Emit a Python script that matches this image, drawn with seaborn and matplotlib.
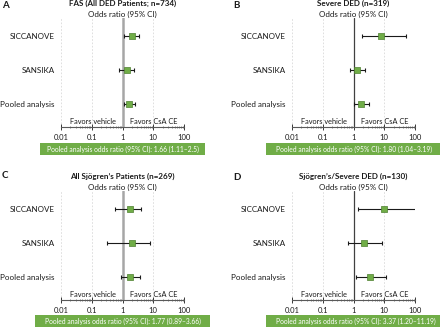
import numpy as np
import pandas as pd
import seaborn as sns
import matplotlib
matplotlib.use("Agg")
import matplotlib.pyplot as plt
from matplotlib.patches import Rectangle
from matplotlib.ticker import LogLocator, NullFormatter, FixedLocator, FixedFormatter
import matplotlib.transforms as mtransforms

sns.set_theme(style="white")
plt.rcParams['font.family'] = ['Lato', 'DejaVu Sans']

studies = ["SICCANOVE", "SANSIKA", "Pooled analysis"]
panel_letters = ["A", "B", "C", "D"]
panel_titles = ["FAS (All DED Patients; n=734)", "Severe DED (n=319)",
                "All Sjögren’s Patients (n=269)", "Sjögren’s/Severe DED (n=130)"]
or_values = [[2.05, 1.35, 1.66], [8.0, 1.28, 1.80], [1.69, 2.1, 1.77], [10.0, 2.18, 3.37]]
ci_low = [[1.13, 0.76, 1.11], [1.96, 0.76, 1.04], [0.56, 0.32, 0.89], [1.39, 0.65, 1.20]]
ci_high = [[3.4, 2.45, 2.5], [51.0, 2.34, 3.19], [4.06, 7.6, 3.66], [200.0, 8.5, 11.19]]
pooled_text = ["Pooled analysis odds ratio (95% CI): 1.66 (1.11–2.5)",
               "Pooled analysis odds ratio (95% CI): 1.80 (1.04–3.19)",
               "Pooled analysis odds ratio (95% CI): 1.77 (0.89–3.66)",
               "Pooled analysis odds ratio (95% CI): 3.37 (1.20–11.19)"]
x_ticks = [0.01, 0.1, 1, 10, 100]
x_tick_labels = ["0.01", "0.1", "1", "10", "100"]

W, H = 440, 327
fig = plt.figure(figsize=(W / 100, H / 100), dpi=100)

# axes rectangles in pixels: left, top, right, bottom
rects = [(61, 18, 184, 127), (292, 18, 415, 127), (61, 191, 184, 300), (292, 191, 415, 300)]
boxes = [(40, 143, 205, 155), (266, 143, 442, 155), (35, 315, 210, 327), (266, 315, 445, 327)]
letters_pos = [(2, 5), (233, 5), (2, 176), (233, 177)]
refline = [("#a6a6a6", 1.8), ("#404040", 0.9), ("#a6a6a6", 1.8), ("#404040", 0.9)]
green = "#70AD47"
green_edge = "#4e7f30"
txt = "#1a1a1a"

for i in range(4):
    l, t, r, b = rects[i]
    ax = fig.add_axes([l / W, 1 - b / H, (r - l) / W, (b - t) / H])
    df = pd.DataFrame({"study": studies, "pos": [1, 2, 3], "or": or_values[i],
                       "lo": ci_low[i], "hi": ci_high[i]})
    ax.set_xscale("log")
    for xv in [0.01, 0.1, 10, 100]:
        ax.axvline(xv, color="#d9d9d9", lw=0.6, ls=(0, (2, 2)), zorder=0)
    ax.axvline(1, color=refline[i][0], lw=refline[i][1], zorder=1)
    ax.errorbar(df["or"], df["pos"], xerr=[df["or"] - df["lo"], df["hi"] - df["or"]],
                fmt="none", ecolor=txt, elinewidth=0.8, capsize=1.5, capthick=0.8, zorder=2)
    sns.scatterplot(data=df, x="or", y="pos", marker="s", s=22, color=green,
                    edgecolor=green_edge, linewidth=0.5, ax=ax, zorder=3, legend=False)
    ax.set_xlim(0.01, 100)
    ax.set_ylim(3.7, 0.45)
    ax.set_yticks([1, 2, 3])
    ax.set_yticklabels(studies, fontsize=5.8, color=txt)
    ax.xaxis.set_major_locator(FixedLocator(x_ticks))
    ax.xaxis.set_major_formatter(FixedFormatter(x_tick_labels))
    ax.xaxis.set_minor_locator(LogLocator(base=10, subs=np.arange(2, 10)))
    ax.xaxis.set_minor_formatter(NullFormatter())
    ax.tick_params(axis="x", which="major", direction="inout", length=4, width=0.6,
                   labelsize=5.5, pad=3, colors=txt, bottom=True)
    ax.tick_params(axis="x", which="minor", direction="inout", length=2, width=0.5,
                   bottom=True, colors="#595959")
    ax.tick_params(axis="y", length=0, pad=4.5)
    for s in ["top", "right", "left"]:
        ax.spines[s].set_visible(False)
    ax.spines["bottom"].set_color("#595959")
    ax.spines["bottom"].set_linewidth(0.8)
    ax.set_xlabel("")
    ax.set_ylabel("")
    trans = mtransforms.blended_transform_factory(ax.transData, ax.transAxes)
    ax.text(0.6, 0.02, "Favors vehicle", transform=trans, ha="right", va="bottom",
            fontsize=5.3, color=txt)
    ax.text(1.7, 0.02, "Favors CsA CE", transform=trans, ha="left", va="bottom",
            fontsize=5.3, color=txt)
    ax.text(0.5, 1.037, "Odds ratio (95% CI)", transform=ax.transAxes, ha="center",
            va="center", fontsize=5.8, color=txt)
    ax.text(0.5, 1.13, panel_titles[i], transform=ax.transAxes, ha="center",
            va="center", fontsize=5.8, fontweight="bold", color=txt)
    bl, bt, br, bb = boxes[i]
    fig.patches.append(Rectangle((bl / W, 1 - bb / H), (br - bl) / W, (bb - bt) / H,
                                 transform=fig.transFigure, fc=green, ec="none"))
    fig.text((bl + br) / 2 / W, 1 - (bt + bb) / 2 / H, pooled_text[i], ha="center",
             va="center", fontsize=4.9, color="white")
    lx, ly = letters_pos[i]
    fig.text(lx / W, 1 - ly / H, panel_letters[i], ha="left", va="center", fontsize=7,
             fontweight="bold", color=txt)

fig.savefig("out.png", dpi=100)
